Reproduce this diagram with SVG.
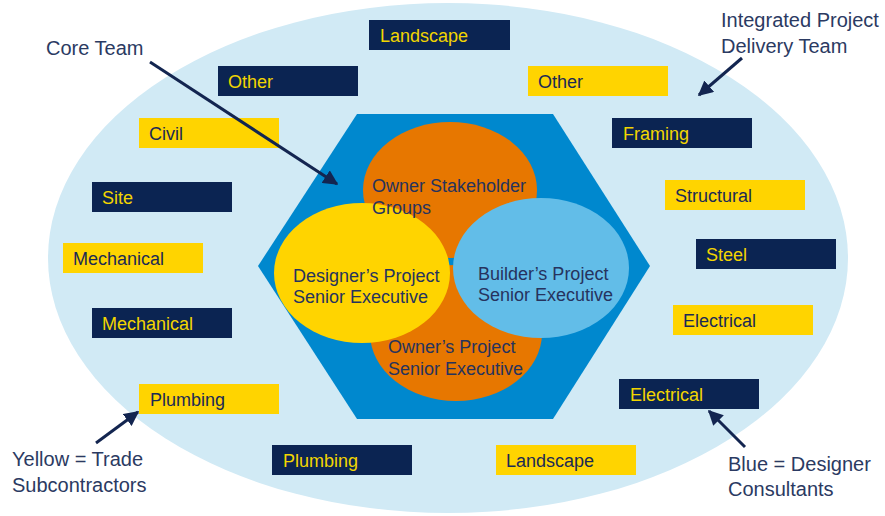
<svg xmlns="http://www.w3.org/2000/svg" width="885" height="516" viewBox="0 0 885 516">
<style>
.nv{fill:#0B2452}
.yl{fill:#FFD400}
.tn{font-family:"Liberation Sans",Arial,sans-serif;font-size:18px;fill:#F2D500}
.ty{font-family:"Liberation Sans",Arial,sans-serif;font-size:18px;fill:#1B2A55}
.tc{font-family:"Liberation Sans",Arial,sans-serif;font-size:18px;fill:#26335E}
.lb{font-family:"Liberation Sans",Arial,sans-serif;font-size:20px;fill:#2B3A62}
.ar{stroke:#132550;stroke-width:3;fill:none;marker-end:url(#ah)}
</style>
<defs>
<marker id="ah" viewBox="0 0 10 10" refX="9" refY="5" markerWidth="5" markerHeight="5" orient="auto" markerUnits="strokeWidth">
<path d="M0,0 L10,5 L0,10 z" fill="#132550"/>
</marker>
</defs>
<rect width="885" height="516" fill="#FFFFFF"/>
<g id="outer"><ellipse cx="448" cy="258" rx="400" ry="255" fill="#D1EAF5"/></g>
<g id="hexagon"><polygon points="357,114 553,114 650,266 553,419 357,419 258,266" fill="#0088CE"/></g>
<g id="owner-stakeholder"><ellipse cx="450" cy="190" rx="87" ry="68" fill="#E77700"/></g>
<g id="owner-project"><ellipse cx="456" cy="333" rx="86" ry="68" fill="#E77700"/></g>
<g id="designer"><ellipse cx="362" cy="273" rx="88" ry="70" fill="#FFD400"/></g>
<g id="builder"><ellipse cx="541" cy="268" rx="88" ry="70" fill="#62BDE8"/></g>
<g id="core-texts">
<text class="tc" x="372" y="192">Owner Stakeholder</text>
<text class="tc" x="372" y="214">Groups</text>
<text class="tc" x="293" y="282">Designer’s Project</text>
<text class="tc" x="293" y="303">Senior Executive</text>
<text class="tc" x="478" y="280">Builder’s Project</text>
<text class="tc" x="478" y="301">Senior Executive</text>
<text class="tc" x="388" y="353">Owner’s Project</text>
<text class="tc" x="388" y="375">Senior Executive</text>
</g>
<g id="box-landscape-top"><rect class="nv" x="369" y="20" width="141" height="30"/><text class="tn" x="380" y="42">Landscape</text></g>
<g id="box-other-left"><rect class="nv" x="218" y="66" width="140" height="30"/><text class="tn" x="228" y="88">Other</text></g>
<g id="box-civil"><rect class="yl" x="139" y="118" width="140" height="30"/><text class="ty" x="149" y="140">Civil</text></g>
<g id="box-site"><rect class="nv" x="92" y="182" width="140" height="30"/><text class="tn" x="102" y="204">Site</text></g>
<g id="box-mech-yellow"><rect class="yl" x="63" y="243" width="140" height="30"/><text class="ty" x="73" y="265">Mechanical</text></g>
<g id="box-mech-navy"><rect class="nv" x="92" y="308" width="140" height="30"/><text class="tn" x="102" y="330">Mechanical</text></g>
<g id="box-plumb-yellow"><rect class="yl" x="139" y="384" width="140" height="30"/><text class="ty" x="150" y="406">Plumbing</text></g>
<g id="box-plumb-navy"><rect class="nv" x="272" y="445" width="140" height="30"/><text class="tn" x="283" y="467">Plumbing</text></g>
<g id="box-other-right"><rect class="yl" x="528" y="66" width="140" height="30"/><text class="ty" x="538" y="88">Other</text></g>
<g id="box-framing"><rect class="nv" x="612" y="118" width="140" height="30"/><text class="tn" x="623" y="140">Framing</text></g>
<g id="box-structural"><rect class="yl" x="665" y="180" width="140" height="30"/><text class="ty" x="675" y="202">Structural</text></g>
<g id="box-steel"><rect class="nv" x="696" y="239" width="140" height="30"/><text class="tn" x="706" y="261">Steel</text></g>
<g id="box-elec-yellow"><rect class="yl" x="673" y="305" width="140" height="30"/><text class="ty" x="683" y="327">Electrical</text></g>
<g id="box-elec-navy"><rect class="nv" x="619" y="379" width="140" height="30"/><text class="tn" x="630" y="401">Electrical</text></g>
<g id="box-landscape-bottom"><rect class="yl" x="496" y="445" width="140" height="30"/><text class="ty" x="506" y="467">Landscape</text></g>
<g id="labels">
<text class="lb" x="46" y="55">Core Team</text>
<text class="lb" x="721" y="27">Integrated Project</text>
<text class="lb" x="721" y="53">Delivery Team</text>
<text class="lb" x="12" y="466">Yellow = Trade</text>
<text class="lb" x="12" y="492">Subcontractors</text>
<text class="lb" x="728" y="471">Blue = Designer</text>
<text class="lb" x="728" y="496">Consultants</text>
</g>
<g id="connectors">
<line class="ar" x1="150" y1="62" x2="337" y2="184"/>
<line class="ar" x1="742" y1="58" x2="699" y2="95"/>
<line class="ar" x1="96" y1="443" x2="138" y2="412"/>
<line class="ar" x1="745" y1="447" x2="709" y2="411"/>
</g>
</svg>
